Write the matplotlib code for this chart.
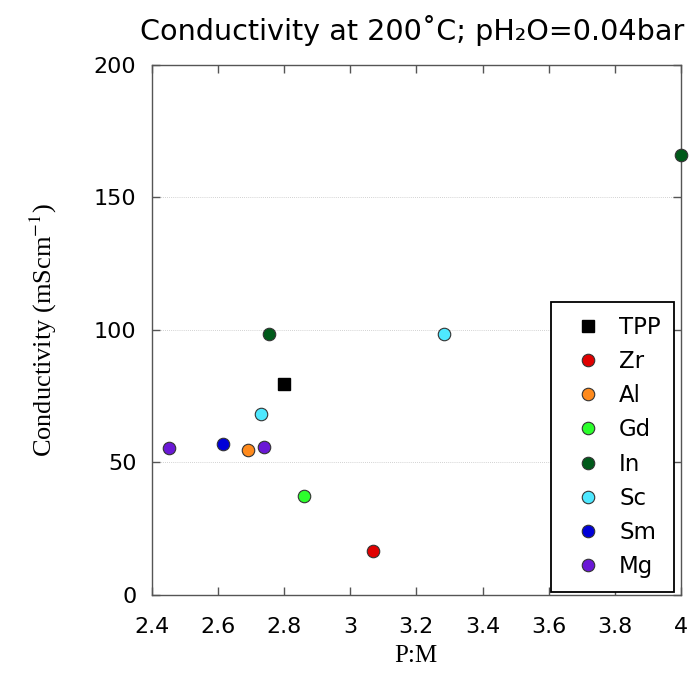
import matplotlib
matplotlib.use("Agg")
import matplotlib.pyplot as plt

# ------------------------------------------------------------------ data --
names = ["TPP", "Zr", "Al", "Gd", "In", "Sc", "Sm", "Mg"]
pm_values = [
    [2.80],
    [3.07],
    [2.69],
    [2.86],
    [2.755, 4.0],
    [2.73, 3.285],
    [2.615],
    [2.453, 2.74],
]
sigma_values = [
    [79.7],
    [16.5],
    [54.6],
    [37.4],
    [98.6, 166.0],
    [68.3, 98.6],
    [56.9],
    [55.5, 55.9],
]
x_ticks = [2.4, 2.6, 2.8, 3.0, 3.2, 3.4, 3.6, 3.8, 4.0]
x_tick_labels = ["2.4", "2.6", "2.8", "3", "3.2", "3.4", "3.6", "3.8", "4"]
y_ticks = [0, 50, 100, 150, 200]

# ---------------------------------------------------------------- styles --
colors = ["#000000", "#e00000", "#ff8a1c", "#2cff2c", "#005a1a",
          "#4ee8ff", "#0000d8", "#6a18d6"]
markers = ["s", "o", "o", "o", "o", "o", "o", "o"]
SPINE = "#555555"

plt.rcParams["mathtext.fontset"] = "stix"

fig = plt.figure(figsize=(6.92, 6.83), dpi=100)
ax = fig.add_axes([0.2192, 0.1294, 0.7649, 0.7754])

for name, xs, ys, c, m in zip(names, pm_values, sigma_values, colors, markers):
    if m == "s":
        ax.plot(xs, ys, ls="none", marker="s", ms=8.5, mfc=c, mec=c,
                label=name, clip_on=False, zorder=5)
    else:
        ax.plot(xs, ys, ls="none", marker="o", ms=9, mfc=c, mec="#333333",
                mew=0.8, label=name, clip_on=False, zorder=5)

ax.set_xlim(2.4, 4.0)
ax.set_ylim(0, 200)
ax.set_xticks(x_ticks)
ax.set_xticklabels(x_tick_labels)
ax.set_yticks(y_ticks)

for sp in ax.spines.values():
    sp.set_color(SPINE)
    sp.set_linewidth(1.0)
ax.tick_params(direction="in", length=6, width=1.0, color=SPINE,
               top=True, right=True, labelsize=16)
ax.tick_params(axis="x", pad=16)
ax.tick_params(axis="y", pad=11)
ax.yaxis.grid(True, ls=(0, (1, 1.5)), color="#c4c4c4", lw=0.6)
ax.set_axisbelow(True)

serif = ["Liberation Serif", "DejaVu Serif"]
ax.set_xlabel("P:M", family=serif, fontsize=18, labelpad=6)
ax.set_ylabel("Conductivity (mScm$^{-1}$)", family=serif, fontsize=19,
              labelpad=25)

fig.text(0.595, 0.956, "Conductivity at 200\u02daC; pH\u2082O=0.04bar",
         ha="center", va="center", fontsize=20.6)

leg = ax.legend(loc="upper left",
                bbox_to_anchor=(551 / 692, 1 - 302 / 683),
                bbox_transform=fig.transFigure,
                fontsize=16.5, frameon=True, fancybox=False,
                edgecolor="black", framealpha=1, borderpad=0.6,
                labelspacing=0.49, handletextpad=0.37, borderaxespad=0,
                handlelength=2.0, numpoints=1)
leg.get_frame().set_linewidth(1.3)
leg.set_zorder(10)

fig.savefig("out.png", dpi=100, facecolor="white")
